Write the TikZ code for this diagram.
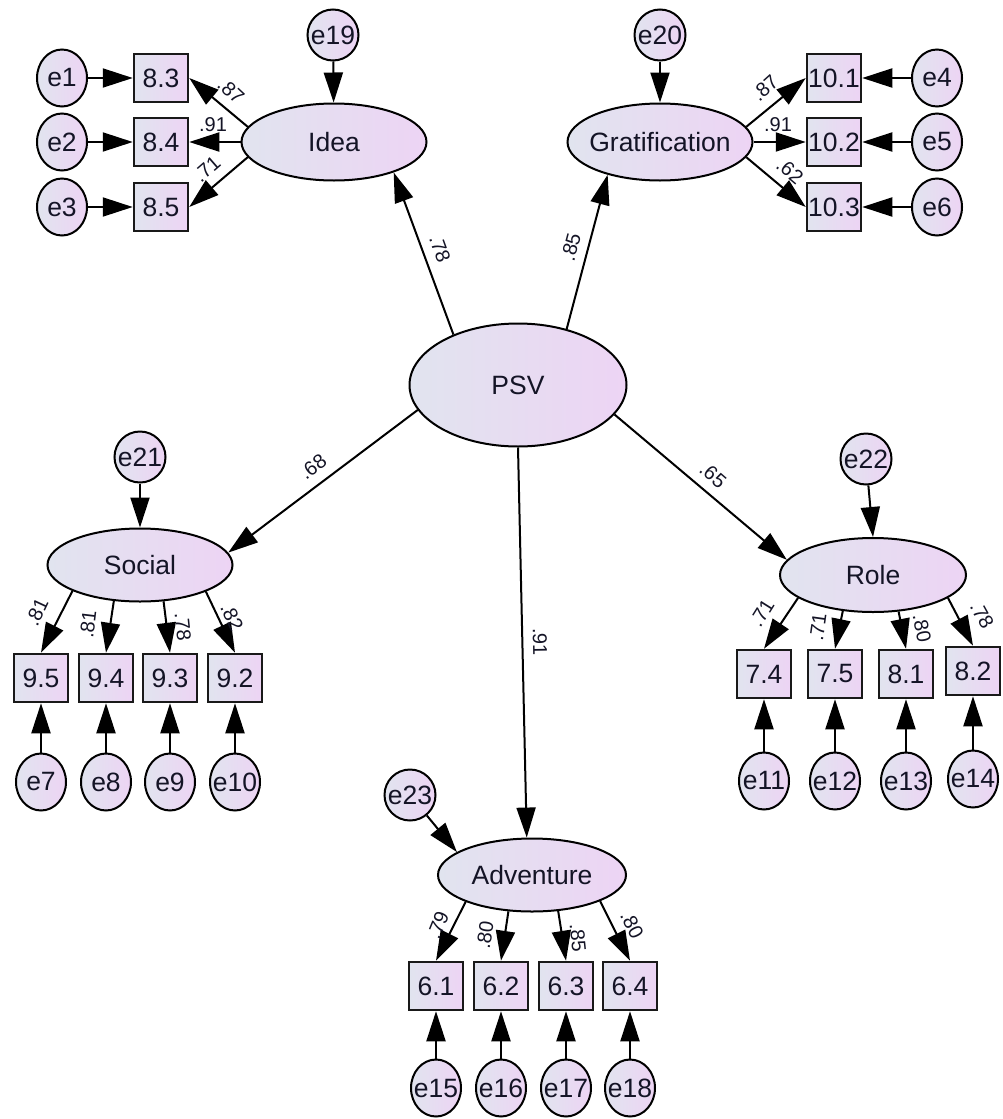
\documentclass[tikz,border=0pt]{standalone}
\usepackage{fontspec}
\setmainfont{Liberation Sans}
\usetikzlibrary{shapes.geometric,arrows.meta}
\definecolor{fillA}{RGB}{225,228,239}
\definecolor{fillB}{RGB}{237,212,244}
\definecolor{txt}{RGB}{20,20,38}

\begin{document}
\begin{tikzpicture}[x=1pt,y=-1pt,
  every node/.style={font=\fontsize{26.5}{30}\selectfont, text=txt},
  gfill/.style={left color=fillA, right color=fillB, draw=black, line width=2pt},
  latent/.style={gfill, ellipse, inner xsep=-28pt, inner ysep=0pt},
  err/.style={gfill, ellipse, minimum width=50pt, minimum height=57pt, inner xsep=-16pt, inner ysep=0pt},
  derr/.style={gfill, ellipse, minimum width=51pt, minimum height=51pt, inner xsep=-16pt, inner ysep=0pt},
  obs/.style={gfill, rectangle, line width=2.5pt, draw=black!90, minimum width=54pt, minimum height=48pt, inner sep=0pt},
  arr/.style={draw=black, line width=2pt, -{Triangle[length=30pt,width=19pt]}},
  lbl/.style={font=\fontsize{20}{22}\selectfont, inner sep=0pt}
]
\fill[white] (0,0) rectangle (1002,1119);
\useasboundingbox (0,0) rectangle (1002,1119);

% latent factors
\node[latent, minimum width=217pt, minimum height=123pt] (psv) at (518,385) {PSV};
\node[latent, minimum width=185pt, minimum height=77pt] (idea) at (334,142) {Idea};
\node[latent, minimum width=185pt, minimum height=77pt] (grat) at (660,142) {Gratification};
\node[latent, minimum width=185pt, minimum height=73pt] (social) at (140,565) {Social};
\node[latent, minimum width=186pt, minimum height=74pt] (role) at (873,575) {Role};
\node[latent, minimum width=188pt, minimum height=73pt] (adv) at (532,875) {Adventure};

% disturbances
\node[derr] (e19) at (333,35) {e19};
\node[derr] (e20) at (660,35) {e20};
\node[derr] (e21) at (140,457) {e21};
\node[derr] (e22) at (866,459) {e22};
\node[derr] (e23) at (410,795) {e23};

% Idea indicators
\node[obs] (b83) at (161,78) {8.3};
\node[obs] (b84) at (161,142) {8.4};
\node[obs] (b85) at (161,207) {8.5};
\node[err] (e1) at (62,78) {e1};
\node[err] (e2) at (62,142) {e2};
\node[err] (e3) at (62,207) {e3};

% Gratification indicators
\node[obs] (b101) at (834,78) {10.1};
\node[obs] (b102) at (834,142) {10.2};
\node[obs] (b103) at (834,207) {10.3};
\node[err] (e4) at (937,78) {e4};
\node[err] (e5) at (937,142) {e5};
\node[err] (e6) at (937,207) {e6};

% Social indicators
\node[obs] (b95) at (41,678) {9.5};
\node[obs] (b94) at (106,678) {9.4};
\node[obs] (b93) at (170,678) {9.3};
\node[obs] (b92) at (235,678) {9.2};
\node[err] (e7) at (41,782) {e7};
\node[err] (e8) at (106,782) {e8};
\node[err] (e9) at (170,782) {e9};
\node[err] (e10) at (235,782) {e10};

% Role indicators
\node[obs] (b74) at (764,674) {7.4};
\node[obs] (b75) at (835,674) {7.5};
\node[obs] (b81) at (906,674) {8.1};
\node[obs] (b82) at (973,671) {8.2};
\node[err] (e11) at (764,781) {e11};
\node[err] (e12) at (835,781) {e12};
\node[err] (e13) at (906,781) {e13};
\node[err] (e14) at (973,779) {e14};

% Adventure indicators
\node[obs] (b61) at (436,986) {6.1};
\node[obs] (b62) at (501,986) {6.2};
\node[obs] (b63) at (566,986) {6.3};
\node[obs] (b64) at (630,986) {6.4};
\node[err] (e15) at (436,1088) {e15};
\node[err] (e16) at (501,1088) {e16};
\node[err] (e17) at (566,1088) {e17};
\node[err] (e18) at (630,1088) {e18};

% structural paths
\draw[arr] (psv.142) -- (idea.-27);
\draw[arr] (psv.49) -- (grat.212);
\draw[arr] (psv.194) -- (social.8);
\draw[arr] (psv.-17) -- (role.170);
\draw[arr] (psv.south) -- (adv.98);

% disturbance paths
\draw[arr] (e19) -- (idea);
\draw[arr] (e20) -- (grat);
\draw[arr] (e21) -- (social);
\draw[arr] (e22) -- (role.north);
\draw[arr] (e23) -- (adv.163);

% loadings
\draw[arr] (idea.170) -- (b83.east);
\draw[arr] (idea.west) -- (b84.east);
\draw[arr] (idea.190) -- (b85.east);
\draw[arr] (grat.10) -- (b101.west);
\draw[arr] (grat.east) -- (b102.west);
\draw[arr] (grat.-10) -- (b103.west);
\draw[arr] (social.201) -- (b95.north);
\draw[arr] (social.234) -- (b94.north);
\draw[arr] (social.303) -- (b93.north);
\draw[arr] (social.338) -- (b92.north);
\draw[arr] (role.197) -- (b74.north);
\draw[arr] (role.230) -- (b75.north);
\draw[arr] (role.305) -- (b81.north);
\draw[arr] (role.343) -- (b82.north);
\draw[arr] (adv.202) -- (b61.north);
\draw[arr] (adv.237) -- (b62.north);
\draw[arr] (adv.306) -- (b63.north);
\draw[arr] (adv.339) -- (b64.north);

% measurement errors
\draw[arr] (e1) -- (b83);
\draw[arr] (e2) -- (b84);
\draw[arr] (e3) -- (b85);
\draw[arr] (e4) -- (b101);
\draw[arr] (e5) -- (b102);
\draw[arr] (e6) -- (b103);
\draw[arr] (e7) -- (b95);
\draw[arr] (e8) -- (b94);
\draw[arr] (e9) -- (b93);
\draw[arr] (e10) -- (b92);
\draw[arr] (e11) -- (b74);
\draw[arr] (e12) -- (b75);
\draw[arr] (e13) -- (b81);
\draw[arr] (e14) -- (b82);
\draw[arr] (e15) -- (b61);
\draw[arr] (e16) -- (b62);
\draw[arr] (e17) -- (b63);
\draw[arr] (e18) -- (b64);

% standardized estimates
\node[lbl, rotate=-43] (l1) at (231,91) {.87};
\node[lbl] (l2) at (213,125) {.91};
\node[lbl, rotate=41] (l3) at (207,169) {.71};
\node[lbl, rotate=42] (l4) at (765,88) {.87};
\node[lbl] (l5) at (778,125) {.91};
\node[lbl, rotate=-40] (l6) at (790,171) {.62};
\node[lbl, rotate=-70] (l7) at (440,249) {.78};
\node[lbl, rotate=75] (l8) at (571,247) {.85};
\node[lbl, rotate=37] (l9) at (313,467) {.68};
\node[lbl, rotate=-41] (l10) at (713,475) {.65};
\node[lbl, rotate=-89] (l11) at (540,642) {.91};
\node[lbl, rotate=65] (l12) at (37,612) {.81};
\node[lbl, rotate=83] (l13) at (88,624) {.81};
\node[lbl, rotate=-84] (l14) at (183,627) {.78};
\node[lbl, rotate=-65] (l15) at (232,617) {.82};
\node[lbl, rotate=58] (l16) at (762,613) {.71};
\node[lbl, rotate=82] (l17) at (818,627) {.71};
\node[lbl, rotate=-79] (l18) at (922,628) {.80};
\node[lbl, rotate=-61] (l19) at (982,615) {.78};
\node[lbl, rotate=68] (l20) at (438,925) {.79};
\node[lbl, rotate=81] (l21) at (485,935) {.80};
\node[lbl, rotate=-84] (l22) at (578,938) {.85};
\node[lbl, rotate=-63] (l23) at (632,925) {.80};
\end{tikzpicture}
\end{document}
